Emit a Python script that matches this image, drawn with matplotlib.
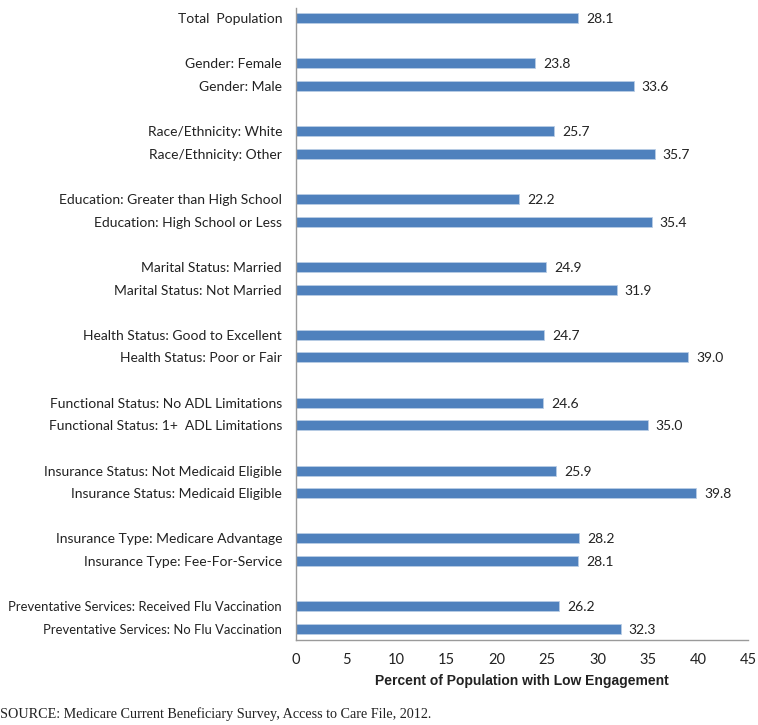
import matplotlib.pyplot as plt

labels = [
    "Total  Population",
    "Gender: Female", "Gender: Male",
    "Race/Ethnicity: White", "Race/Ethnicity: Other",
    "Education: Greater than High School", "Education: High School or Less",
    "Marital Status: Married", "Marital Status: Not Married",
    "Health Status: Good to Excellent", "Health Status: Poor or Fair",
    "Functional Status: No ADL Limitations", "Functional Status: 1+  ADL Limitations",
    "Insurance Status: Not Medicaid Eligible", "Insurance Status: Medicaid Eligible",
    "Insurance Type: Medicare Advantage", "Insurance Type: Fee-For-Service",
    "Preventative Services: Received Flu Vaccination", "Preventative Services: No Flu Vaccination",
]
values = [28.1, 23.8, 33.6, 25.7, 35.7, 22.2, 35.4, 24.9, 31.9,
          24.7, 39.0, 24.6, 35.0, 25.9, 39.8, 28.2, 28.1, 26.2, 32.3]

# slot positions: total on its own, then pairs with an empty slot between groups
pos = [0]
for k in range(9):
    pos += [2 + 3 * k, 3 + 3 * k]

fig = plt.figure(figsize=(7.58, 7.25), dpi=100)
ax = fig.add_axes([0.3905, 0.117, 0.5965, 0.872])

ax.barh(pos, values, height=0.44, color="#4F81BD", edgecolor="#B9CDE5", linewidth=0.6)
for p, v in zip(pos, values):
    ax.text(v + 0.8, p, f"{v:.1f}", va="center_baseline", ha="left", fontsize=10,
            family="Lato", color="#222222")

ax.set_xlim(0, 45)
ax.set_ylim(27.5, -0.45)
ax.set_xticks(range(0, 46, 5))
ax.set_yticks(pos)
ax.set_yticklabels(labels, family="Lato", fontsize=10, color="#222222")
ax.tick_params(axis="x", length=0, pad=9, labelsize=10.5)
ax.tick_params(axis="y", length=0, pad=10)
for t in ax.get_xticklabels():
    t.set_family("Lato")
    t.set_color("#222222")
for t in ax.get_yticklabels():
    t.set_verticalalignment("center_baseline")
    if len(t.get_text()) > 40:
        t.set_fontsize(9.4)
for s in ["top", "right"]:
    ax.spines[s].set_visible(False)
for s in ["left", "bottom"]:
    ax.spines[s].set_color("#9A9A9A")
    ax.spines[s].set_linewidth(1)

ax.set_xlabel("Percent of Population with Low Engagement", family="Liberation Sans",
              fontweight="bold", fontsize=10, labelpad=5, color="#222222")

fig.text(0.0, 0.006, "SOURCE: Medicare Current Beneficiary Survey, Access to Care File, 2012.",
         family="Liberation Serif", fontsize=10.2, color="#222222", ha="left", va="bottom")

fig.savefig("out.png", dpi=100)
